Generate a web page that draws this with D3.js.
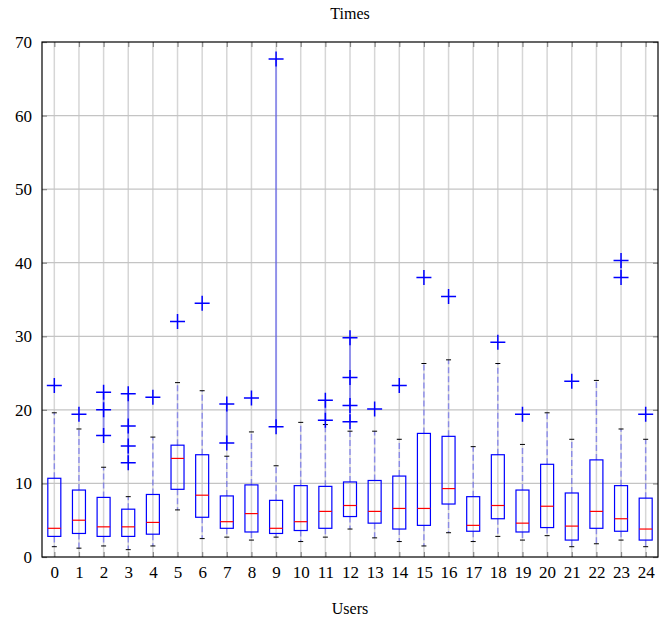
<!DOCTYPE html>
<html>
<head>
<meta charset="utf-8">
<script src="https://cdn.jsdelivr.net/npm/d3@7"></script>
<style>
  body { margin: 0; background: #fff; }
  svg text { font-family: "Liberation Serif", "DejaVu Serif", serif; }
</style>
</head>
<body>
<svg id="chart" width="667" height="622"></svg>
<script>
// ---- data ----
var users = d3.range(0, 25);
var lowCap  = [1.4,1.2,1.5,1.0,1.5,6.4,2.5,2.7,2.3,2.7,2.1,2.7,3.8,2.6,2.1,1.5,3.3,2.1,2.8,2.3,2.9,1.4,1.8,2.3,1.4];
var q1      = [2.8,3.2,2.8,2.8,3.1,9.2,5.4,3.9,3.4,3.2,3.6,3.9,5.5,4.6,3.8,4.3,7.2,3.5,5.2,3.4,4.0,2.3,3.9,3.5,2.3];
var medians = [3.9,5.0,4.1,4.1,4.7,13.4,8.4,4.8,5.9,3.9,4.8,6.2,7.0,6.2,6.6,6.6,9.3,4.3,7.0,4.6,6.9,4.2,6.2,5.2,3.8];
var q3      = [10.7,9.1,8.1,6.5,8.5,15.2,13.9,8.3,9.8,7.7,9.7,9.6,10.2,10.4,11.0,16.8,16.4,8.2,13.9,9.1,12.6,8.7,13.2,9.7,8.0];
var highCap = [19.6,17.4,12.2,8.2,16.3,23.7,22.6,13.7,17.0,12.4,18.3,18.0,17.1,17.1,16.0,26.3,26.8,15.0,26.3,15.3,19.6,16.0,24.0,17.4,16.0];
var outliers = [[23.3],[19.4],[16.5,20.0,22.4],[12.8,15.1,17.8,22.2],[21.7],[32.0],[34.5],[15.5,20.8],[21.6],[17.7,67.7],
                [],[18.6,21.3],[18.4,20.6,24.4,29.8],[20.1],[23.3],[38.0],[35.4],[],[29.2],[19.4],[],[23.9],[],[38.0,40.3],[19.4]];
var yTicks = [0, 10, 20, 30, 40, 50, 60, 70];

var boxes = users.map(function (u, i) {
    return { user: u, lo: lowCap[i], q1: q1[i], med: medians[i], q3: q3[i], hi: highCap[i], out: outliers[i] };
});

//Setting up chart layout
var margin = { top: 42, right: 9, bottom: 65, left: 42 };
var svgWidth = 667, svgHeight = 622;
var plotWidth = svgWidth - margin.left - margin.right;
var plotHeight = svgHeight - margin.top - margin.bottom;
var serif = '"Liberation Serif", "DejaVu Serif", serif';

var svg = d3.select('#chart');
var g = svg.append('g').attr('transform', 'translate(' + margin.left + ',' + margin.top + ')');

var xScale = d3.scaleLinear().domain([-0.5, 24.5]).range([0, plotWidth]);
var yScale = d3.scaleLinear().domain([0, 70]).range([plotHeight, 0]);

var blue = '#0000ff';
var boxHalf = 6.5;
var capHalf = 2.5;

// grid lines
g.append('g').selectAll('line.vgrid')
    .data(users)
    .enter().append('line')
    .attr('x1', d => xScale(d)).attr('x2', d => xScale(d))
    .attr('y1', 0).attr('y2', plotHeight)
    .style('stroke', '#d6d6d6').style('stroke-width', 1.5);

g.append('g').selectAll('line.hgrid')
    .data(yTicks.slice(1, -1))
    .enter().append('line')
    .attr('x1', 0).attr('x2', plotWidth)
    .attr('y1', d => yScale(d)).attr('y2', d => yScale(d))
    .style('stroke', '#c4c4c4').style('stroke-width', 1.2);

// inward ticks on all four sides
var tickColor = '#888';
var xBottom = d3.axisBottom(xScale).tickValues(users).tickSize(-5).tickPadding(9).tickFormat(d3.format('d'));
var xTop = d3.axisTop(xScale).tickValues(users).tickSize(-5).tickFormat('');
var yLeft = d3.axisLeft(yScale).tickValues(yTicks).tickSize(-5).tickPadding(10);
var yRight = d3.axisRight(yScale).tickValues(yTicks).tickSize(-5).tickFormat('');

function styleAxis(sel) {
    sel.attr('font-family', serif).attr('font-size', 17);
    sel.select('.domain').remove();
    sel.selectAll('.tick line').style('stroke', tickColor).style('stroke-width', 1.2);
    sel.selectAll('.tick text')
        .style('font-family', serif)
        .style('font-size', '17px')
        .style('fill', '#000');
}

g.append('g').attr('transform', 'translate(0,' + plotHeight + ')').call(xBottom).call(styleAxis);
g.append('g').call(xTop).call(styleAxis);
g.append('g').call(yLeft).call(styleAxis);
g.append('g').attr('transform', 'translate(' + plotWidth + ',0)').call(yRight).call(styleAxis);

// whiskers (dashed, faint blue)
var bx = g.append('g').selectAll('g.box')
    .data(boxes)
    .enter().append('g');

bx.append('line')
    .attr('x1', d => xScale(d.user)).attr('x2', d => xScale(d.user))
    .attr('y1', d => yScale(d.q3)).attr('y2', d => yScale(d.hi))
    .style('stroke', blue).style('stroke-opacity', 0.35).style('stroke-width', 1.5)
    .style('stroke-dasharray', '6,3');
bx.append('line')
    .attr('x1', d => xScale(d.user)).attr('x2', d => xScale(d.user))
    .attr('y1', d => yScale(d.q1)).attr('y2', d => yScale(d.lo))
    .style('stroke', blue).style('stroke-opacity', 0.35).style('stroke-width', 1.5)
    .style('stroke-dasharray', '6,3');

// caps
['hi', 'lo'].forEach(function (k) {
    bx.append('line')
        .attr('x1', d => xScale(d.user) - capHalf).attr('x2', d => xScale(d.user) + capHalf)
        .attr('y1', d => yScale(d[k])).attr('y2', d => yScale(d[k]))
        .style('stroke', '#000').style('stroke-width', 1);
});

// boxes
bx.append('rect')
    .attr('x', d => xScale(d.user) - boxHalf)
    .attr('width', boxHalf * 2)
    .attr('y', d => yScale(d.q3))
    .attr('height', d => yScale(d.q1) - yScale(d.q3))
    .style('fill', 'none').style('stroke', blue).style('stroke-width', 1.2);

// medians
bx.append('line')
    .attr('x1', d => xScale(d.user) - boxHalf).attr('x2', d => xScale(d.user) + boxHalf)
    .attr('y1', d => yScale(d.med)).attr('y2', d => yScale(d.med))
    .style('stroke', '#ff0000').style('stroke-width', 1.2);

// outliers: faint connecting line + crosses
bx.filter(d => d.out.length > 1).append('path')
    .attr('d', d => d3.line().x(() => xScale(d.user)).y(v => yScale(v))(d.out))
    .style('fill', 'none').style('stroke', blue).style('stroke-opacity', 0.35).style('stroke-width', 2);

var cross = 7.5;
bx.selectAll('path.out')
    .data(d => d.out.map(v => ({ user: d.user, v: v })))
    .enter().append('path')
    .attr('d', function (o) {
        var cx = xScale(o.user), cy = yScale(o.v);
        return 'M' + (cx - cross) + ',' + cy + 'H' + (cx + cross) + 'M' + cx + ',' + (cy - cross) + 'V' + (cy + cross);
    })
    .style('fill', 'none').style('stroke', blue).style('stroke-width', 1.5);

// frame
g.append('rect')
    .attr('width', plotWidth).attr('height', plotHeight)
    .style('fill', 'none').style('stroke', '#000').style('stroke-width', 1.2);

// titles
svg.append('text')
    .attr('x', margin.left + plotWidth / 2).attr('y', 19)
    .attr('text-anchor', 'middle')
    .style('font-family', serif)
    .style('font-size', '16px')
    .text('Times');

svg.append('text')
    .attr('x', margin.left + plotWidth / 2).attr('y', 614)
    .attr('text-anchor', 'middle')
    .style('font-family', serif)
    .style('font-size', '16px')
    .text('Users');
</script>
</body>
</html>
